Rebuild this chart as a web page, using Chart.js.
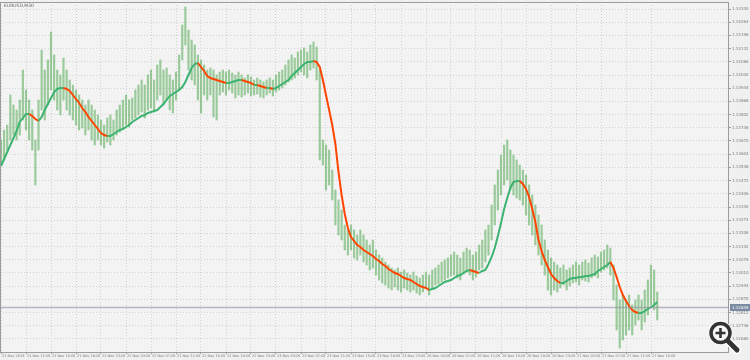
<!DOCTYPE html>
<html>
<head>
<meta charset="utf-8">
<script src="https://cdn.jsdelivr.net/npm/chart.js@4.4.1/dist/chart.umd.min.js"></script>
<style>
  html, body { margin: 0; padding: 0; background: #f0f0f0; }
  #wrap { position: relative; width: 750px; height: 360px; }
  #zoomIcon { position: absolute; left: 0; top: 0; pointer-events: none; }
</style>
</head>
<body>
<div id="wrap">
  <canvas id="chart" width="750" height="360"></canvas>
  <svg id="zoomIcon" width="750" height="360">
    <line x1="728" y1="341" x2="737" y2="350" stroke="#fff" stroke-width="8" stroke-linecap="round"/>
    <circle cx="720.5" cy="333" r="12" fill="#fff"/>
    <line x1="728" y1="341" x2="737" y2="350" stroke="#333" stroke-width="5" stroke-linecap="round"/>
    <circle cx="720.5" cy="333" r="9.5" fill="#f6f6f6" stroke="#333" stroke-width="3.5"/>
    <path d="M715.5 333h10M720.5 328v10" stroke="#333" stroke-width="2.6"/>
  </svg>
</div>
<script>
const symbolTitle = 'EURUSD,M30';

const timeLabels = [
  '21 Nov 2018', '21 Nov 11:05', '21 Nov 15:05', '21 Nov 19:05', '21 Nov 23:05',
  '22 Nov 03:05', '22 Nov 07:05', '22 Nov 11:05', '22 Nov 15:05', '22 Nov 19:05', '22 Nov 23:05',
  '23 Nov 03:05', '23 Nov 07:05', '23 Nov 11:05', '23 Nov 15:05', '23 Nov 19:05', '23 Nov 23:05',
  '26 Nov 03:05', '26 Nov 07:05', '26 Nov 11:05', '26 Nov 15:05', '26 Nov 19:05', '26 Nov 23:05',
  '27 Nov 03:05', '27 Nov 07:05', '27 Nov 11:05', '27 Nov 15:05'
];

const priceTicks = [
  1.14330, 1.14264, 1.14198, 1.14132, 1.14066, 1.14000, 1.13934, 1.13868, 1.13802,
  1.13736, 1.13670, 1.13604, 1.13538, 1.13472, 1.13406, 1.13340, 1.13274, 1.13208,
  1.13142, 1.13076, 1.13010, 1.12944, 1.12878, 1.12812, 1.12746, 1.12680
];

// M30 bars: high / low
const highs = [
  1.13675,1.13725,1.13750,1.13900,1.13850,1.13825,1.13875,1.14025,1.13925,1.13875,
  1.13825,1.13675,1.13875,1.14125,1.14025,1.14075,1.14215,1.14100,1.14025,1.14000,
  1.14085,1.14025,1.13975,1.13950,1.13925,1.13900,1.13875,1.13850,1.13875,1.13850,
  1.13825,1.13800,1.13775,1.13750,1.13785,1.13800,1.13775,1.13825,1.13850,1.13875,
  1.13900,1.13875,1.13885,1.13925,1.13950,1.13975,1.13950,1.14000,1.14025,1.13975,
  1.14050,1.14075,1.14025,1.14035,1.14000,1.13975,1.14015,1.14100,1.14250,1.14340,
  1.14225,1.14175,1.14150,1.14100,1.14075,1.14050,1.14025,1.14035,1.14025,1.14000,
  1.14015,1.14025,1.14015,1.14025,1.14010,1.14000,1.14015,1.14000,1.13985,1.14000,
  1.13990,1.13975,1.13985,1.13975,1.13965,1.13975,1.13985,1.13975,1.14000,1.14015,
  1.14025,1.14050,1.14075,1.14100,1.14085,1.14115,1.14125,1.14135,1.14115,1.14150,
  1.14165,1.14140,1.14025,1.13675,1.13650,1.13625,1.13525,1.13425,1.13375,1.13325,
  1.13250,1.13225,1.13250,1.13225,1.13200,1.13225,1.13200,1.13175,1.13150,1.13175,
  1.13125,1.13100,1.13085,1.13065,1.13050,1.13035,1.13025,1.13035,1.13015,1.13025,
  1.13010,1.13000,1.13015,1.12995,1.12985,1.13000,1.13015,1.13000,1.13025,1.13035,
  1.13050,1.13065,1.13075,1.13085,1.13100,1.13115,1.13100,1.13085,1.13115,1.13135,
  1.13125,1.13100,1.13115,1.13150,1.13175,1.13225,1.13250,1.13350,1.13450,1.13525,
  1.13600,1.13650,1.13675,1.13625,1.13600,1.13575,1.13550,1.13525,1.13500,1.13450,
  1.13400,1.13350,1.13300,1.13250,1.13175,1.13125,1.13085,1.13065,1.13050,1.13035,
  1.13050,1.13025,1.13035,1.13050,1.13065,1.13050,1.13065,1.13075,1.13060,1.13085,
  1.13100,1.13090,1.13115,1.13125,1.13150,1.13135,1.13050,1.12950,1.12875,1.12900,
  1.12875,1.12900,1.12850,1.12875,1.12900,1.12875,1.12925,1.12975,1.13050,1.13025,1.12915
];

const lows = [
  1.13550,1.13575,1.13625,1.13675,1.13700,1.13675,1.13700,1.13775,1.13725,1.13675,
  1.13625,1.13450,1.13625,1.13825,1.13775,1.13850,1.13925,1.13875,1.13825,1.13800,
  1.13875,1.13825,1.13800,1.13775,1.13750,1.13725,1.13735,1.13700,1.13725,1.13675,
  1.13650,1.13675,1.13650,1.13635,1.13665,1.13650,1.13675,1.13700,1.13715,1.13735,
  1.13750,1.13740,1.13775,1.13785,1.13800,1.13815,1.13785,1.13825,1.13835,1.13815,
  1.13875,1.13900,1.13850,1.13875,1.13825,1.13810,1.13875,1.13925,1.14075,1.14150,
  1.14025,1.13975,1.13950,1.13875,1.13810,1.13900,1.13875,1.13900,1.13790,1.13775,
  1.13900,1.13915,1.13900,1.13925,1.13910,1.13885,1.13900,1.13890,1.13900,1.13910,
  1.13895,1.13900,1.13905,1.13890,1.13885,1.13900,1.13910,1.13895,1.13915,1.13925,
  1.13935,1.13950,1.13965,1.13975,1.13985,1.14000,1.14015,1.14000,1.13985,1.14025,
  1.14035,1.13975,1.13575,1.13550,1.13425,1.13450,1.13375,1.13250,1.13200,1.13175,
  1.13125,1.13100,1.13125,1.13085,1.13075,1.13100,1.13065,1.13050,1.13025,1.13035,
  1.13000,1.12975,1.12960,1.12950,1.12935,1.12925,1.12940,1.12925,1.12915,1.12935,
  1.12925,1.12915,1.12925,1.12910,1.12900,1.12915,1.12935,1.12900,1.12935,1.12950,
  1.12955,1.12965,1.12975,1.12985,1.12995,1.13000,1.12985,1.12975,1.13005,1.13015,
  1.13000,1.12975,1.12990,1.13025,1.13035,1.13065,1.13100,1.13175,1.13250,1.13325,
  1.13400,1.13450,1.13475,1.13425,1.13400,1.13385,1.13375,1.13350,1.13300,1.13250,
  1.13200,1.13150,1.13100,1.13050,1.13000,1.12925,1.12900,1.12925,1.12915,1.12935,
  1.12950,1.12925,1.12945,1.12960,1.12965,1.12950,1.12975,1.12970,1.12965,1.12985,
  1.12995,1.12985,1.13015,1.13025,1.13035,1.13000,1.12875,1.12725,1.12635,1.12675,
  1.12700,1.12725,1.12700,1.12750,1.12775,1.12725,1.12765,1.12800,1.12850,1.12825,1.12775
];

// moving average (green while rising, orange while falling)
const maValues = [
  1.13545,1.13580,1.13615,1.13650,1.13685,1.13720,1.13765,1.13785,1.13805,1.13805,
  1.13795,1.13780,1.13770,1.13790,1.13825,1.13855,1.13885,1.13915,1.13930,1.13935,
  1.13935,1.13930,1.13920,1.13900,1.13880,1.13860,1.13835,1.13815,1.13790,1.13770,
  1.13750,1.13730,1.13710,1.13700,1.13695,1.13695,1.13705,1.13715,1.13725,1.13730,
  1.13740,1.13750,1.13765,1.13775,1.13785,1.13795,1.13800,1.13810,1.13815,1.13820,
  1.13825,1.13840,1.13855,1.13875,1.13895,1.13905,1.13915,1.13925,1.13940,1.13965,
  1.14000,1.14035,1.14055,1.14060,1.14040,1.14020,1.13995,1.13985,1.13980,1.13975,
  1.13970,1.13965,1.13960,1.13960,1.13965,1.13970,1.13975,1.13975,1.13970,1.13965,
  1.13960,1.13950,1.13950,1.13945,1.13940,1.13935,1.13935,1.13930,1.13935,1.13945,
  1.13955,1.13965,1.13975,1.13995,1.14010,1.14025,1.14040,1.14055,1.14065,1.14065,
  1.14070,1.14065,1.14040,1.13975,1.13900,1.13825,1.13750,1.13655,1.13515,1.13400,
  1.13305,1.13235,1.13190,1.13170,1.13150,1.13140,1.13125,1.13115,1.13105,1.13095,
  1.13080,1.13070,1.13055,1.13045,1.13030,1.13020,1.13010,1.13005,1.12995,1.12985,
  1.12980,1.12975,1.12965,1.12955,1.12945,1.12940,1.12935,1.12925,1.12930,1.12935,
  1.12945,1.12955,1.12965,1.12970,1.12975,1.12985,1.12995,1.13000,1.13010,1.13020,
  1.13025,1.13020,1.13015,1.13010,1.13020,1.13025,1.13055,1.13090,1.13135,1.13195,
  1.13260,1.13330,1.13385,1.13435,1.13465,1.13470,1.13470,1.13455,1.13430,1.13390,
  1.13330,1.13265,1.13175,1.13120,1.13075,1.13040,1.13005,1.12985,1.12970,1.12960,
  1.12960,1.12970,1.12980,1.12985,1.12985,1.12990,1.12990,1.12995,1.12995,1.13000,
  1.13005,1.13020,1.13030,1.13040,1.13050,1.13065,1.13035,1.12990,1.12940,1.12900,
  1.12870,1.12845,1.12825,1.12815,1.12810,1.12810,1.12820,1.12830,1.12840,1.12850,1.12865
];

const lastPrice = 1.12839;

const GRID = '#d2d2d2';
const AXIS_TEXT = '#7a7a7a';
const FRAME = '#9c9c9c';

const chartFrame = {
    id: 'chartFrame',
    beforeDraw(chart) {
        const { ctx, chartArea: a } = chart;
        ctx.save();
        ctx.fillStyle = '#f0f0f0';
        ctx.fillRect(0, 0, chart.width, chart.height);
        ctx.fillStyle = '#f3f3f3';
        ctx.fillRect(a.left, a.top, a.right - a.left, a.bottom - a.top);
        ctx.restore();
    },
    afterDatasetsDraw(chart) {
        // current price line
        const { ctx, chartArea: a, scales } = chart;
        const py = Math.round(scales.y.getPixelForValue(lastPrice)) + 0.5;
        ctx.save();
        ctx.strokeStyle = 'rgba(140,142,160,0.6)';
        ctx.lineWidth = 1.5;
        ctx.beginPath();
        ctx.moveTo(a.left, py);
        ctx.lineTo(a.right, py);
        ctx.stroke();
        ctx.restore();
    },
    afterDraw(chart) {
        const { ctx, chartArea: a, scales } = chart;
        ctx.save();
        ctx.strokeStyle = FRAME;
        ctx.lineWidth = 1;
        ctx.strokeRect(a.left + 0.5, a.top + 0.5, a.right - a.left - 1, a.bottom - a.top);

        ctx.fillStyle = '#666';
        ctx.font = '4.5px "DejaVu Sans"';
        ctx.textBaseline = 'middle';
        ctx.fillText(symbolTitle, a.left + 4, a.top + 3.5);

        const py = Math.round(scales.y.getPixelForValue(lastPrice)) + 0.5;
        ctx.fillStyle = '#7b8ba2';
        ctx.fillRect(a.right + 1, py - 3.5, chart.width - a.right - 1, 7);
        ctx.fillStyle = '#ffffff';
        ctx.font = '4px "DejaVu Sans"';
        ctx.fillText(lastPrice.toFixed(5), a.right + 3, py);
        ctx.restore();
    }
};

window.onload = () => {
    const ctx = document.getElementById('chart').getContext('2d');
    new Chart(ctx, {
        data: {
            datasets: [
                {
                    type: 'line',
                    label: 'MA',
                    data: maValues.map((v, i) => ({ x: i, y: v })),
                    borderWidth: 2,
                    pointRadius: 0,
                    tension: 0,
                    segment: {
                        borderColor: (c) => c.p1.parsed.y >= c.p0.parsed.y ? '#3cb371' : '#ff4500'
                    },
                    order: 0
                },
                {
                    type: 'bar',
                    label: 'EURUSD',
                    data: highs.map((h, i) => ({ x: i, y: [lows[i], h] })),
                    backgroundColor: 'rgba(80,168,80,0.55)',
                    barThickness: 1.5,
                    order: 1
                }
            ]
        },
        options: {
            responsive: false,
            animation: false,
            layout: { padding: { top: 2, left: 0, right: 0, bottom: 0 } },
            plugins: {
                legend: { display: false },
                tooltip: { enabled: false },
                title: { display: false }
            },
            scales: {
                x: {
                    type: 'linear',
                    offset: false,
                    min: -0.32,
                    max: 232.96,
                    afterBuildTicks: (scale) => {
                        scale.ticks = timeLabels.map((t, k) => ({ value: k * 8 }));
                    },
                    afterFit: (scale) => {
                        scale.height = 8;
                        scale.paddingLeft = 0;
                        scale.paddingRight = 0;
                    },
                    ticks: {
                        callback: (v, i) => timeLabels[i],
                        autoSkip: false,
                        maxRotation: 0,
                        align: 'start',
                        padding: 0,
                        labelOffset: 1,
                        color: AXIS_TEXT,
                        font: { family: 'DejaVu Sans', size: 3.5 }
                    },
                    grid: {
                        offset: false,
                        color: GRID,
                        tickColor: FRAME,
                        tickLength: 2,
                        drawTicks: true
                    },
                    border: { display: false, dash: [1, 2] }
                },
                y: {
                    type: 'linear',
                    position: 'right',
                    min: 1.12615,
                    max: 1.14365,
                    afterBuildTicks: (scale) => {
                        scale.ticks = priceTicks.map((v) => ({ value: v }));
                    },
                    afterFit: (scale) => {
                        scale.width = 21;
                        scale.paddingTop = 0;
                        scale.paddingBottom = 0;
                    },
                    ticks: {
                        callback: (v) => v.toFixed(5),
                        autoSkip: false,
                        padding: 1,
                        color: AXIS_TEXT,
                        font: { family: 'DejaVu Sans', size: 4 }
                    },
                    grid: {
                        color: GRID,
                        tickColor: FRAME,
                        tickLength: 2
                    },
                    border: { display: false, dash: [1, 2] }
                }
            }
        },
        plugins: [chartFrame]
    });
};
</script>
</body>
</html>
